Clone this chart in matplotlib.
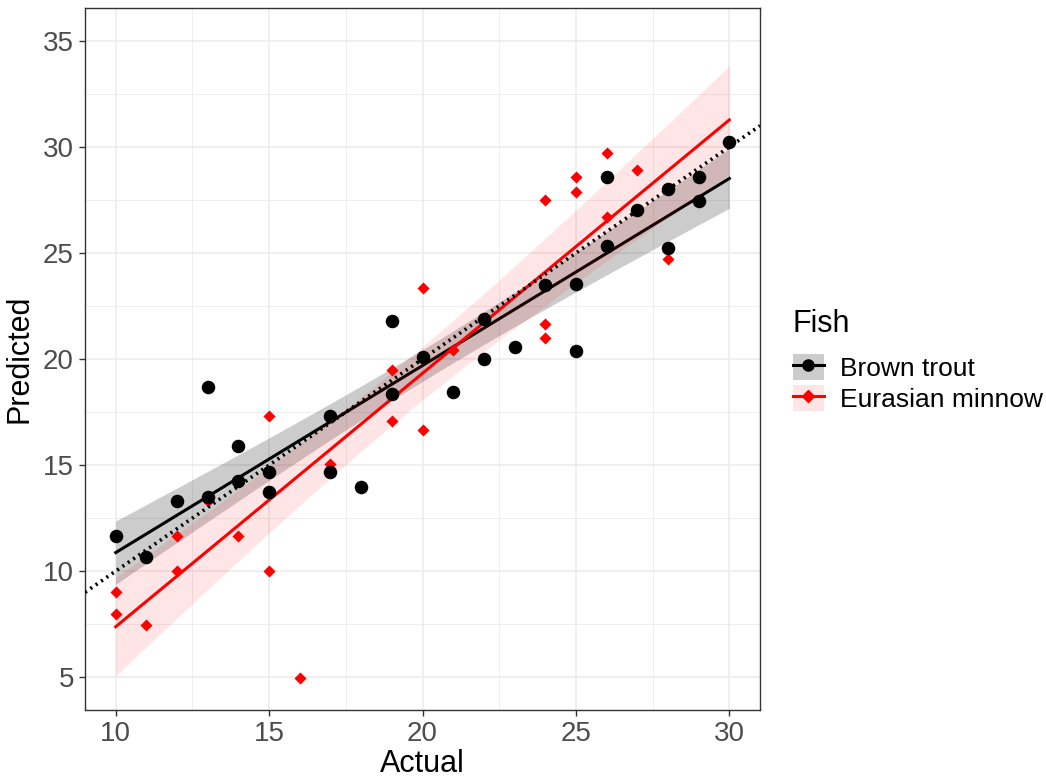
import numpy as np
import matplotlib
matplotlib.use("Agg")
import matplotlib.pyplot as plt
from matplotlib.patches import Patch
from matplotlib.lines import Line2D
from matplotlib.legend_handler import HandlerTuple

plt.rcParams["font.family"] = ["Liberation Sans", "DejaVu Sans"]

# Brown trout (black circles)
trout_actual = [10, 11, 12, 13, 13, 14, 14, 15, 15, 17, 17, 18, 19, 19, 20,
                21, 22, 22, 23, 24, 25, 25, 26, 26, 27, 28, 28, 29, 29, 30]
trout_pred = [11.65, 10.66, 13.3, 13.5, 18.68, 15.88, 14.26, 14.66, 13.73, 14.66,
              17.32, 13.98, 21.79, 18.33, 20.11, 18.46, 21.87, 20.0, 20.58, 23.49,
              23.54, 20.4, 28.6, 25.33, 27.03, 28.0, 25.22, 28.6, 27.47, 30.25]

# Eurasian minnow (red diamonds), last one hidden under the trout point at 30
minnow_actual = [10, 10, 11, 12, 12, 13, 14, 15, 15, 16, 17, 19, 19, 20, 20,
                 21, 24, 24, 24, 25, 25, 26, 26, 27, 28, 30]
minnow_pred = [9.0, 7.97, 7.45, 11.65, 10.0, 13.3, 11.65, 17.33, 10.0, 4.97,
               15.05, 19.48, 17.09, 23.33, 16.65, 20.44, 27.5, 21.67, 20.97, 28.6,
               27.86, 29.73, 26.68, 28.9, 24.7, 30.2]

groups = [
    ("Brown trout", trout_actual, trout_pred, "black", "o", 0.2),
    ("Eurasian minnow", minnow_actual, minnow_pred, "#ff0000", "D", 0.1),
]


def fit_with_ci(x, y, xs):
    x = np.asarray(x, float)
    y = np.asarray(y, float)
    n = len(x)
    b, a = np.polyfit(x, y, 1)
    resid = y - (a + b * x)
    s = np.sqrt(np.sum(resid ** 2) / (n - 2))
    sxx = np.sum((x - x.mean()) ** 2)
    se = s * np.sqrt(1 / n + (xs - x.mean()) ** 2 / sxx)
    t = 2.05  # approx t(0.975, n-2)
    fit = a + b * xs
    return fit, fit - t * se, fit + t * se


fig = plt.figure(figsize=(10.46, 7.78), dpi=100)
ax = fig.add_axes([0.0813, 0.0874, 0.6453, 0.9023])

ax.set_xlim(9, 31)
ax.set_ylim(3.45, 36.55)

# smooth ribbons and lines, one group after the other
for name, xa, ya, col, mk, alpha in groups:
    xs = np.linspace(min(xa), max(xa), 100)
    fit, lo, hi = fit_with_ci(xa, ya, xs)
    ax.fill_between(xs, lo, hi, color=col, alpha=alpha, lw=0, zorder=2)
    ax.plot(xs, fit, color=col, lw=2.2, zorder=2)

# red points first, black on top
for name, xa, ya, col, mk, alpha in groups[::-1]:
    ax.scatter(xa, ya, color=col, marker=mk, s=95 if mk == "o" else 38,
               lw=0, zorder=3)

# 1:1 line
ax.plot([9, 31], [9, 31], color="black", lw=2.6, ls=(0, (0.6, 1.2)), zorder=4)

ax.set_xticks([10, 15, 20, 25, 30])
ax.set_yticks([5, 10, 15, 20, 25, 30, 35])
ax.set_xticks([12.5, 17.5, 22.5, 27.5], minor=True)
ax.set_yticks([7.5, 12.5, 17.5, 22.5, 27.5, 32.5], minor=True)
ax.grid(which="major", color="#ebebeb", lw=1.1, zorder=0)
ax.grid(which="minor", color="#ebebeb", lw=0.6, zorder=0)
ax.set_axisbelow(True)
ax.tick_params(which="major", labelsize=20, labelcolor="#4d4d4d",
               color="#333333", length=4.5, width=1)
ax.tick_params(which="minor", length=0)
for sp in ax.spines.values():
    sp.set_color("#333333")
    sp.set_linewidth(1)

ax.set_xlabel("Actual", fontsize=22, labelpad=1)
ax.set_ylabel("Predicted", fontsize=22, labelpad=6)

handles = []
for name, xa, ya, col, mk, alpha in groups:
    patch = Patch(facecolor=col, alpha=alpha, edgecolor="none")
    line = Line2D([], [], color=col, lw=2.2, marker=mk,
                  markersize=8 if mk == "o" else 6)
    handles.append((patch, line))

leg = fig.legend(handles, [g[0] for g in groups], title="Fish",
                 loc="upper left", bbox_to_anchor=(0.758, 0.603),
                 frameon=False, fontsize=19, title_fontsize=22,
                 handler_map={tuple: HandlerTuple(ndivide=1, pad=0)},
                 handlelength=1.17, handleheight=1.15, handletextpad=0.6,
                 labelspacing=0.15, borderaxespad=0, borderpad=0)
leg._legend_box.align = "left"
leg._legend_box.sep = 11

fig.savefig("out.png", dpi=100)
